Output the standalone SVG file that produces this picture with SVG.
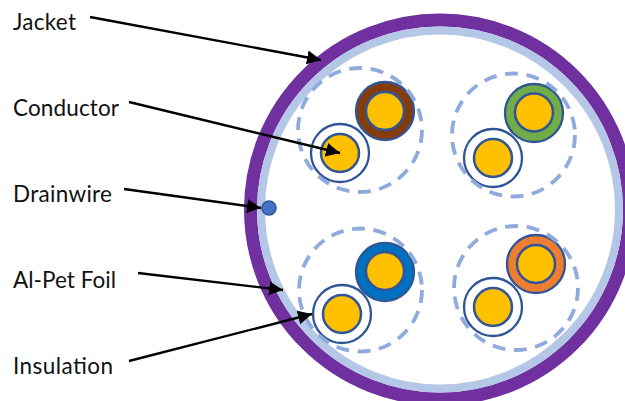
<svg xmlns="http://www.w3.org/2000/svg" width="625" height="401" viewBox="0 0 625 401">
<style>
text{font-family:"Lato","Liberation Sans",sans-serif;font-size:22.500px;fill:#111}
.dash{fill:none;stroke:#8FAADC;stroke-width:3.800;stroke-dasharray:13 8.600}
.ins{stroke:#2F5597;stroke-width:2.300}
.core{fill:#FFC000;stroke:#2F5597;stroke-width:2.500}
.arrow{fill:none;stroke:#000;stroke-width:2.400;marker-end:url(#ah)}
</style>
<defs>
<marker id="ah" markerUnits="userSpaceOnUse" markerWidth="15" markerHeight="15" refX="14" refY="7.500" orient="auto"><path d="M0 0.500L14 7.500L0 14.500Z" fill="#000"/></marker>
</defs>
<rect width="625" height="401" fill="#fff"/>
<g id="cable">
<circle cx="440" cy="209.500" r="189.500" fill="#fff" stroke="#7030A0" stroke-width="13"/>
<circle cx="440" cy="209.500" r="179" fill="#fff" stroke="#B4C7E7" stroke-width="8"/>
</g>
<g id="pair-brown">
<circle class="ins" cx="385" cy="111" r="29" fill="#843C0C"/><circle class="core" cx="385" cy="111" r="19"/>
<circle class="ins" cx="340" cy="153" r="29" fill="#fff"/><circle class="core" cx="340" cy="153" r="19"/>
<circle class="dash" cx="360" cy="130" r="62"/>
</g>
<g id="pair-green">
<circle class="ins" cx="534" cy="113" r="29" fill="#70AD47"/><circle class="core" cx="534" cy="112.500" r="19"/>
<circle class="ins" cx="493" cy="158" r="29" fill="#fff"/><circle class="core" cx="493" cy="158" r="19"/>
<circle class="dash" cx="513.500" cy="135" r="61.500"/>
</g>
<g id="pair-blue">
<circle class="ins" cx="385" cy="272" r="29" fill="#0070C0"/><circle class="core" cx="385" cy="271" r="19"/>
<circle class="ins" cx="342" cy="314" r="29" fill="#fff"/><circle class="core" cx="342" cy="314" r="19"/>
<circle class="dash" cx="360.500" cy="290" r="61.500"/>
</g>
<g id="pair-orange">
<circle class="ins" cx="536" cy="264" r="29" fill="#ED7D31"/><circle class="core" cx="536" cy="264" r="19"/>
<circle class="ins" cx="493" cy="307" r="29" fill="#fff"/><circle class="core" cx="493" cy="307" r="19"/>
<circle class="dash" cx="516" cy="288" r="62"/>
</g>
<g id="drainwire"><circle cx="269" cy="208" r="7" fill="#4472C4" stroke="#2F5597" stroke-width="1.500"/></g>
<g id="connectors">
<line class="arrow" x1="90" y1="17" x2="321" y2="60"/>
<line class="arrow" x1="129" y1="102" x2="340" y2="153"/>
<line class="arrow" x1="124" y1="189" x2="261" y2="208"/>
<line class="arrow" x1="138" y1="273" x2="283" y2="290"/>
<line class="arrow" x1="129" y1="361" x2="312" y2="314"/>
</g>
<g id="labels">
<text x="13" y="30" textLength="63">Jacket</text>
<text x="13" y="116" textLength="106">Conductor</text>
<text x="13" y="202" textLength="99">Drainwire</text>
<text x="13" y="288" textLength="103">Al-Pet Foil</text>
<text x="13" y="374" textLength="100">Insulation</text>
</g>
</svg>
